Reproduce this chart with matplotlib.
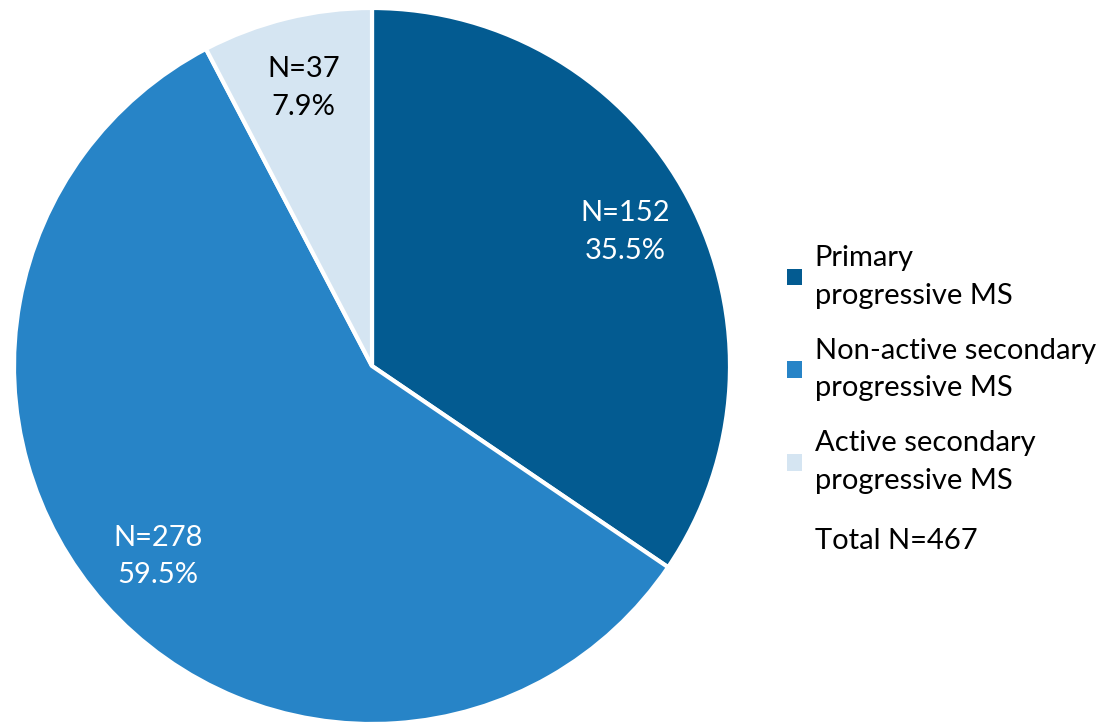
import numpy as np
import matplotlib
matplotlib.use('Agg')
import matplotlib.pyplot as plt
from matplotlib.patches import Patch

plt.rcParams['font.family'] = ['Lato', 'DejaVu Sans']

# MS subtype breakdown
categories = ['Primary\nprogressive MS',
              'Non-active secondary\nprogressive MS',
              'Active secondary\nprogressive MS']
counts = [152, 278, 37]
percents = [35.5, 59.5, 7.9]
colors = ['#035B91', '#2784C7', '#D5E5F2']
label_colors = ['white', 'white', 'black']
total_n = 467

fs = 21
ls = 1.55

fig = plt.figure(figsize=(11, 7.26), dpi=100)
ax = fig.add_axes([14 / 1100, 2 / 726, 716 / 1100, 716 / 726])

wedges, _ = ax.pie(percents, colors=colors, startangle=90, counterclock=False,
                   radius=1, wedgeprops=dict(edgecolor='white', linewidth=3))
ax.set_xlim(-1, 1)
ax.set_ylim(-1, 1)
ax.set_aspect('equal')
ax.axis('off')

# value labels along each slice's bisector
for w, n, p, tc in zip(wedges, counts, percents, label_colors):
    ang = np.deg2rad((w.theta1 + w.theta2) / 2)
    r = 0.8
    ax.text(r * np.cos(ang), r * np.sin(ang), f'N={n}\n{p}%',
            ha='center', va='center', color=tc, fontsize=fs, linespacing=ls)

handles = [Patch(facecolor=c, edgecolor='none') for c in colors]
leg = fig.legend(handles, categories, loc='upper left',
                 bbox_to_anchor=(787 / 1100, 1 - 245 / 726),
                 frameon=False, fontsize=fs, handlelength=0.5,
                 handleheight=0.5, handletextpad=0.45, labelspacing=1.0,
                 borderpad=0, borderaxespad=0)
for t in leg.get_texts():
    t.set_linespacing(ls)

fig.text(815 / 1100, 1 - 541 / 726, f'Total N={total_n}', fontsize=fs,
         va='center', ha='left')

fig.savefig('out.png', dpi=100)
